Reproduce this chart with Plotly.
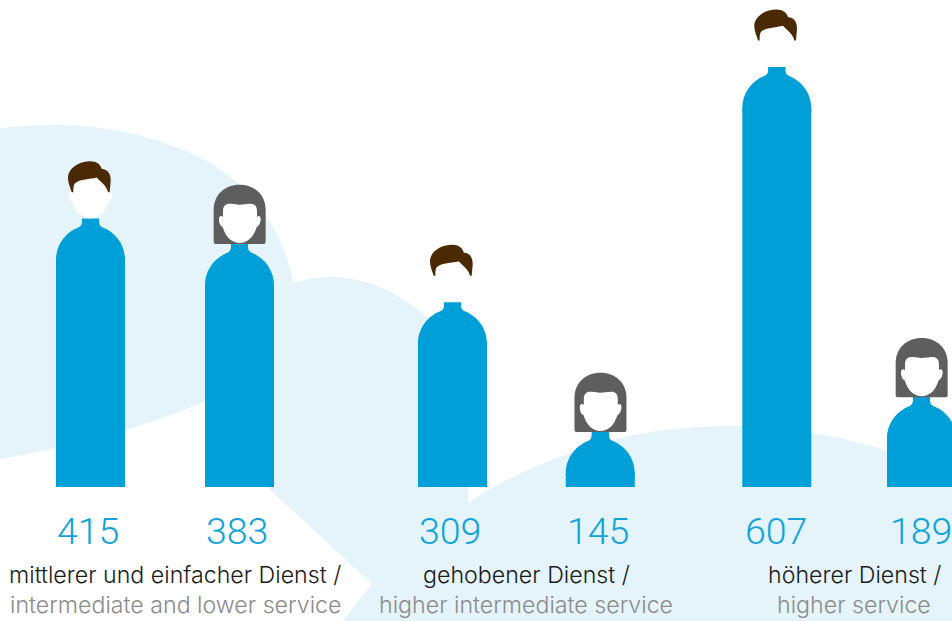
import re
import plotly.graph_objects as go

# ---- data ----
groups_de = ["mittlerer und einfacher Dienst /", "gehobener Dienst /", "höherer Dienst /"]
groups_en = ["intermediate and lower service", "higher intermediate service", "higher service"]
men_women = ["Männer", "Frauen", "Männer", "Frauen", "Männer", "Frauen"]
values = [415, 383, 309, 145, 607, 189]

# ---- layout constants (pixels of the 952x621 canvas) ----
W, H = 952, 621
BASE_PX = 487
PX_PER_UNIT = 0.79
AXIS_FLOOR = 75.5
AXIS_TOP = AXIS_FLOOR + BASE_PX / PX_PER_UNIT
bar_x = [90.5, 239.5, 452.5, 600.3, 776.8, 921.5]
num_x = [87.5, 237, 450, 598, 776, 921]
group_x = [175, 526, 854]
BAR_W = 69
NECK_W = 17
DOME_PX = 41
BLUE = "#009FD7"
PALE = "#E4F4FA"
NUM_COL = "#0FA3DA"
HAIR_M = "#4A2A05"
HAIR_F = "#5E5E5E"
NUM_FONT = "Roboto"
TXT_FONT = "Inter"


def to_data(path, cx, value, ox, oy, k):
    """Place a local drawing on top of a bar: x follows the bar, y follows its value."""
    toks = re.findall(r"[A-Za-z]|-?\d+\.?\d*", path)
    out, is_x = [], True
    for t in toks:
        if t.isalpha():
            out.append(t)
            is_x = True
        else:
            n = float(t)
            if is_x:
                out.append(f"{cx + (n - ox) * k:.3f}")
            else:
                out.append(f"{value - (n - oy) * k / PX_PER_UNIT:.3f}")
            is_x = not is_x
    return " ".join(out)


def to_paper(path):
    toks = re.findall(r"[A-Za-z]|-?\d+\.?\d*", path)
    out, is_x = [], True
    for t in toks:
        if t.isalpha():
            out.append(t)
            is_x = True
        else:
            n = float(t)
            out.append(f"{n / W:.5f}" if is_x else f"{1 - n / H:.5f}")
            is_x = not is_x
    return " ".join(out)


BACKDROP = ("M 0 128 C 20 126 40 125 60 125 C 110 125 170 140 210 163 C 255 190 285 235 293 283 "
            "C 305 279 318 277 330 277 C 365 277 395 290 427 317 C 450 340 468 370 468 400 "
            "L 468 503 C 500 482 530 468 560 457 C 610 436 670 426 730 426 C 790 426 840 436 887 451 "
            "L 952 475 L 952 621 L 343 621 L 372 584 L 267 487 L 240 385 C 160 425 80 445 0 459 Z")

SHOULDERS = ("M -34.5 44 L -34.5 41 C -34.5 26.7 -25.6 13.9 -12.3 8.8 C -10 7.8 -8.5 6 -8.5 3 L -8.5 0 "
             "L 8.5 0 L 8.5 3 C 8.5 6 10 7.8 12.3 8.8 C 25.6 13.9 34.5 26.7 34.5 41 L 34.5 44 Z")

FACE_M = ("M 151 82 C 120 85 100 95 100 125 L 97 125 C 88 125 84 135 87 145 C 90 155 95 160 100 160 "
          "C 105 190 130 206 151.5 206 C 173 206 198 190 203 160 C 208 160 213 155 216 145 "
          "C 219 135 215 125 206 125 L 203 125 C 203 95 183 85 151 82 Z")
HAIR_MALE = ("M 95 128 C 88 105 80 90 86 72 C 95 48 125 35 150 35 C 170 35 182 45 185 58 "
             "C 203 60 213 72 212 95 L 209 128 L 204 128 C 202 112 185 100 170 84 "
             "C 150 90 120 88 104 102 C 100 108 100 118 100 128 Z")
HAIR_FEMALE = ("M 521 282 L 521 185 C 521 140 555 110 599 110 C 643 110 677 140 677 185 L 677 282 "
               "Q 677 288 671 288 L 527 288 Q 521 288 521 282 Z")
FACE_F = ("M 549 190 C 549 175 555 167 570 167 C 585 167 590 170 599 170 C 610 170 620 167 630 167 "
          "C 645 167 651 175 651 190 L 651 207 C 656 200 663 205 662 215 C 661 225 656 235 650 237 "
          "C 640 270 620 285 599 285 C 578 285 558 270 548 237 C 542 235 537 225 537 215 "
          "C 536 205 543 200 549 207 Z")

fig = go.Figure()
dome_units = DOME_PX / PX_PER_UNIT
fig.add_trace(go.Bar(x=bar_x, y=[v - dome_units for v in values], width=BAR_W,
                     marker=dict(color=BLUE, line_width=0),
                     customdata=men_women, name="Körper", showlegend=False))
fig.add_trace(go.Bar(x=bar_x, y=values, width=NECK_W,
                     marker=dict(color=BLUE, line_width=0),
                     customdata=men_women, name="Anzahl", showlegend=False))

shapes = [dict(type="path", xref="paper", yref="paper", layer="below",
               path=to_paper(BACKDROP), fillcolor=PALE, line_width=0)]


def add(path, x, v, ox, oy, k, color):
    shapes.append(dict(type="path", xref="x", yref="y", layer="above",
                       path=to_data(path, x, v, ox, oy, k), fillcolor=color, line_width=0))


for x, v, who in zip(bar_x, values, men_women):
    add(SHOULDERS, x, v, 0, 0, 1, BLUE)
    if who == "Männer":
        add(FACE_M, x, v, 151.5, 208, 1 / 3, "#FFFFFF")
        add(HAIR_MALE, x, v, 151.5, 208, 1 / 3, HAIR_M)
    else:
        add(HAIR_FEMALE, x, v, 598.5, 288, 1 / 3, HAIR_F)
        add(FACE_F, x, v, 598.5, 288, 1 / 3, "#FFFFFF")

ann = []
for x, v in zip(num_x, values):
    ann.append(dict(x=x / W, y=1 - 531 / H, xref="paper", yref="paper", text=str(v), showarrow=False,
                    xanchor="center", yanchor="middle",
                    font=dict(family=NUM_FONT, size=37.5, color=NUM_COL, weight=300)))
for x, de, en in zip(group_x, groups_de, groups_en):
    ann.append(dict(x=x / W, y=1 - 575 / H, xref="paper", yref="paper", text=de, showarrow=False,
                    xanchor="center", yanchor="middle",
                    font=dict(family=TXT_FONT, size=23.2, color="#1A1A1A", weight=300)))
    ann.append(dict(x=x / W, y=1 - 604.5 / H, xref="paper", yref="paper", text=en, showarrow=False,
                    xanchor="center", yanchor="middle",
                    font=dict(family=TXT_FONT, size=23.2, color="#8C8C8C", weight=300)))

fig.update_layout(
    width=W, height=H, margin=dict(l=0, r=0, t=0, b=0, pad=0),
    barmode="overlay", paper_bgcolor="#FFFFFF", plot_bgcolor="rgba(0,0,0,0)",
    xaxis=dict(range=[0, W], visible=False, domain=[0, 1]),
    yaxis=dict(range=[AXIS_FLOOR, AXIS_TOP], visible=False, domain=[1 - BASE_PX / H, 1]),
    shapes=shapes, annotations=ann, showlegend=False,
)
fig.write_html("out.html", config=dict(displayModeBar=False),
               post_script="document.body.style.margin='0';document.documentElement.style.overflow='hidden';")
